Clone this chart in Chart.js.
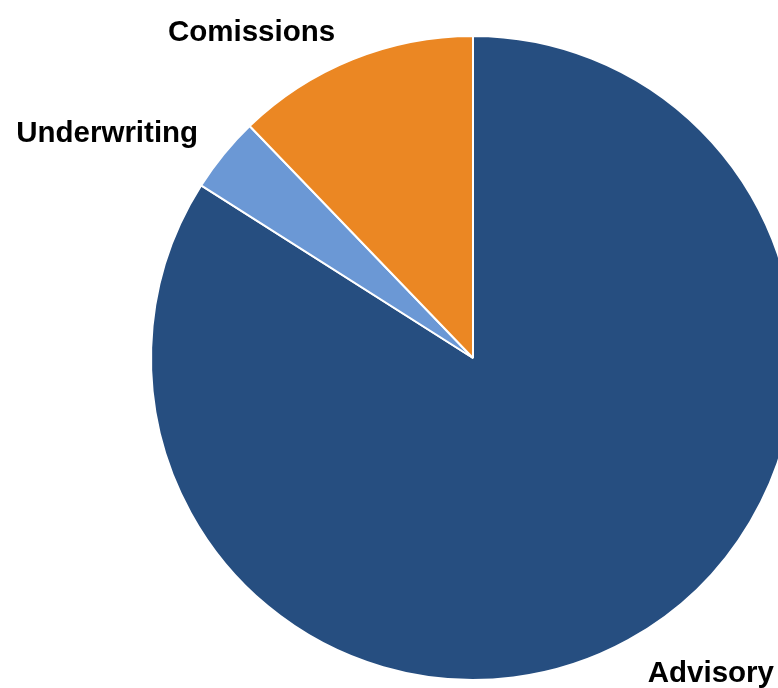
<!DOCTYPE html>
<html>
<head>
<meta charset="utf-8">
<script src="https://cdn.jsdelivr.net/npm/chart.js@4"></script>
<style>
  html, body { margin: 0; padding: 0; background: #fff; overflow: hidden; }
  #wrap { width: 778px; height: 688px; overflow: hidden; position: relative; }
  canvas { position: absolute; left: 0; top: 0; }
</style>
</head>
<body>
<div id="wrap"><canvas id="revenueMix" width="946" height="716"></canvas></div>
<script>
  'use strict'

  const categories = ['Advisory', 'Underwriting', 'Comissions'];
  const shares = [84, 3.8, 12.2];
  const colors = ['#264E80', '#6B98D5', '#EB8723'];

  // labels sit just outside each slice, on the side its middle points to
  const outsideLabels = {
    id: 'outsideLabels',
    afterDraw: function (chart) {
      const ctx = chart.ctx;
      const meta = chart.getDatasetMeta(0);
      ctx.save();
      ctx.font = 'bold 29.5px "Liberation Sans", Arial, sans-serif';
      ctx.fillStyle = '#000';
      meta.data.forEach(function (arc, i) {
        const p = arc.getProps(['x', 'y', 'startAngle', 'endAngle', 'outerRadius'], true);
        const mid = (p.startAngle + p.endAngle) / 2;
        const dx = Math.cos(mid);
        const dy = Math.sin(mid);
        const r = p.outerRadius + 20;
        let x = p.x + dx * r;
        let y = p.y + dy * r;
        if (dx < 0) {
          ctx.textAlign = 'right';
          x -= 10;
        } else {
          ctx.textAlign = 'left';
          x += 10;
        }
        ctx.textBaseline = 'alphabetic';
        if (dy >= 0) {
          y += 24;
        }
        ctx.fillText(categories[i], x, y);
      });
      ctx.restore();
    }
  };

  new Chart(document.getElementById('revenueMix'), {
    type: 'pie',
    data: {
      labels: categories,
      datasets: [{
        data: shares,
        backgroundColor: colors,
        borderColor: '#fff',
        borderWidth: 2
      }]
    },
    options: {
      responsive: false,
      devicePixelRatio: 1,
      animation: false,
      layout: { padding: { top: 35, bottom: 35 } },
      plugins: {
        legend: { display: false },
        tooltip: { enabled: false }
      }
    },
    plugins: [outsideLabels]
  });
</script>
</body>
</html>
